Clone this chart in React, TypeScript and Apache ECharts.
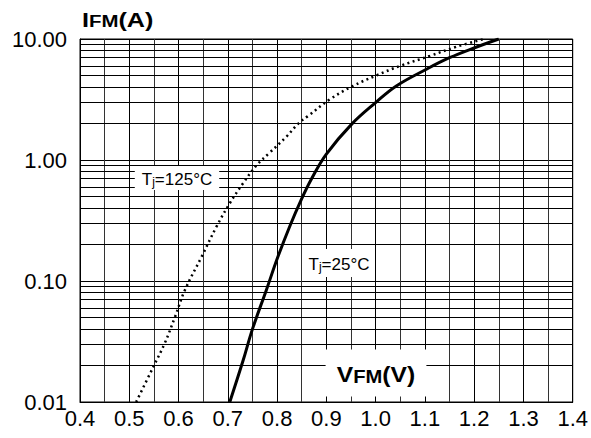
import React, { useEffect, useRef } from "react";
import * as echarts from "echarts";

// Tj = 25°C (solid)
const v25 = [0.704, 0.731, 0.75, 0.779, 0.8, 0.826, 0.848, 0.87, 0.9, 0.951, 1.0, 1.042, 1.103, 1.15, 1.201, 1.25];
const i25 = [0.01, 0.022, 0.04, 0.086, 0.152, 0.285, 0.46, 0.7, 1.12, 1.97, 2.98, 4.09, 5.62, 7.0, 8.47, 10];

// Tj = 125°C (dotted)
const v125 = [0.514, 0.549, 0.572, 0.593, 0.613, 0.647, 0.677, 0.704, 0.731, 0.758, 0.785, 0.819, 0.843, 0.863, 0.907, 0.954, 1.002, 1.049, 1.11, 1.164, 1.22];
const i125 = [0.01, 0.0196, 0.0306, 0.0507, 0.0843, 0.159, 0.281, 0.439, 0.642, 0.9, 1.15, 1.56, 2.0, 2.31, 3.17, 4.09, 5.01, 5.98, 7.24, 8.63, 10];

const minorY = [0.02, 0.03, 0.04, 0.05, 0.06, 0.07, 0.08, 0.09, 0.2, 0.3, 0.4, 0.5, 0.6, 0.7, 0.8, 0.9, 2, 3, 4, 5, 6, 7, 8, 9];

const FONT = "'Liberation Sans', Arial, Helvetica, sans-serif";

export default function App() {
  const ref = useRef<HTMLDivElement>(null);
  useEffect(() => {
    if (!ref.current) return;
    const chart = echarts.init(ref.current, undefined, { renderer: "svg" });
    const tjRich = {
      t: { fontSize: 17, fontFamily: FONT, color: "#000", lineHeight: 20, verticalAlign: "bottom" },
      j: { fontSize: 12, fontFamily: FONT, color: "#000", lineHeight: 12, verticalAlign: "bottom" },
    };
    chart.setOption({
      animation: false,
      backgroundColor: "#fff",
      grid: { left: 80, right: 18, top: 39, bottom: 36, show: true, borderColor: "#000", borderWidth: 1 },
      xAxis: {
        type: "value",
        min: 0.4,
        max: 1.4,
        interval: 0.1,
        axisLine: { show: true, lineStyle: { color: "#000", width: 1 } },
        axisTick: { show: false },
        axisLabel: {
          color: "#000",
          fontSize: 22,
          fontFamily: FONT,
          margin: 5,
          formatter: (v: number) => v.toFixed(1),
        },
        splitLine: { show: true, lineStyle: { color: "#000", width: 1 } },
        minorTick: { show: false, splitNumber: 2 },
        minorSplitLine: { show: true, lineStyle: { color: "#333", width: 1 } },
      },
      yAxis: {
        type: "log",
        logBase: 10,
        min: 0.01,
        max: 10,
        axisLine: { show: true, lineStyle: { color: "#000", width: 1 } },
        axisTick: { show: false },
        axisLabel: {
          color: "#000",
          fontSize: 22,
          fontFamily: FONT,
          margin: 13,
          formatter: (v: number) => v.toFixed(2),
        },
        splitLine: { show: true, lineStyle: { color: "#000", width: 1 } },
      },
      series: [
        {
          type: "line",
          data: [],
          silent: true,
          z: 1,
          markLine: {
            silent: true,
            symbol: "none",
            label: { show: false },
            lineStyle: { color: "#000", width: 1, type: "solid" },
            data: minorY.map((v) => ({ yAxis: v })),
          },
        },
        {
          type: "line",
          name: "Tj=25°C",
          data: v25.map((v, k) => [v, i25[k]]),
          smooth: 0.4,
          showSymbol: false,
          lineStyle: { color: "#000", width: 3 },
          z: 5,
        },
        {
          type: "line",
          name: "Tj=125°C",
          data: v125.map((v, k) => [v, i125[k]]),
          smooth: 0.4,
          showSymbol: false,
          lineStyle: { color: "#000", width: 2.5, type: [2, 3.5], cap: "butt" },
          z: 5,
        },
      ],
      graphic: [
        {
          type: "text",
          z: 100,
          x: 82,
          y: 18,
          scaleX: 1.2,
          style: {
            text: "{a|I}{b|FM}{a|(A)}",
            verticalAlign: "middle",
            rich: {
              a: { fontSize: 21, fontWeight: "bold", fontFamily: FONT, color: "#000", lineHeight: 24, verticalAlign: "bottom" },
              b: { fontSize: 17, fontWeight: "bold", fontFamily: FONT, color: "#000", lineHeight: 20, verticalAlign: "bottom" },
            },
          },
        },
        {
          type: "text",
          z: 100,
          x: 376,
          y: 373,
          scaleX: 1.12,
          style: {
            text: "{a|V}{b|FM}{a|(V)}",
            align: "center",
            verticalAlign: "middle",
            backgroundColor: "#fff",
            padding: [11, 10, 11, 10],
            rich: {
              a: { fontSize: 22, fontWeight: "bold", fontFamily: FONT, color: "#000", lineHeight: 25, verticalAlign: "bottom" },
              b: { fontSize: 18, fontWeight: "bold", fontFamily: FONT, color: "#000", lineHeight: 21, verticalAlign: "bottom" },
            },
          },
        },
        {
          type: "text",
          z: 100,
          x: 177,
          y: 178,
          style: {
            text: "{t|T}{j|j}{t|=125°C}",
            align: "center",
            verticalAlign: "middle",
            backgroundColor: "#fff",
            padding: [2, 7, 2, 7],
            rich: tjRich,
          },
        },
        {
          type: "text",
          z: 100,
          x: 339,
          y: 263,
          style: {
            text: "{t|T}{j|j}{t|=25°C}",
            align: "center",
            verticalAlign: "middle",
            backgroundColor: "#fff",
            padding: [4, 5, 4, 5],
            rich: tjRich,
          },
        },
      ],
    });
    return () => chart.dispose();
  }, []);
  return (
    <div
      ref={ref}
      style={{ position: "fixed", left: 0, top: 0, width: 591, height: 438, background: "#fff" }}
    />
  );
}
